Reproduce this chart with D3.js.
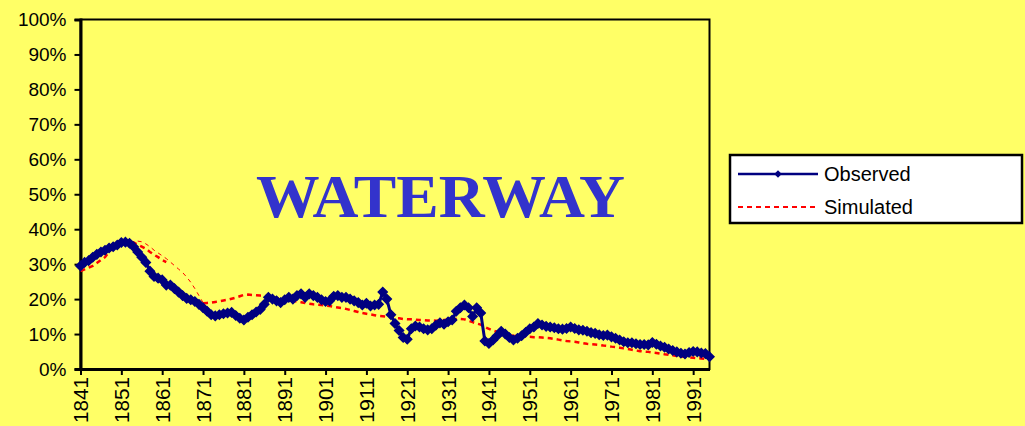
<!DOCTYPE html>
<html>
<head>
<meta charset="utf-8">
<script src="https://cdn.jsdelivr.net/npm/d3@7"></script>
<style>
  html, body { margin: 0; padding: 0; background: #FFFF66; }
  svg { display: block; }
  text { font-family: "Liberation Sans", Arial, sans-serif; }
</style>
</head>
<body>
<svg id="chart" width="1025" height="426"></svg>
<script>
// ---------- data ----------
const firstYear = 1841;
const lastYear = 1995;
const tickYears = [1841,1851,1861,1871,1881,1891,1901,1911,1921,1931,1941,1951,1961,1971,1981,1991];
const yTicks = [0,0.1,0.2,0.3,0.4,0.5,0.6,0.7,0.8,0.9,1.0];
const titleText = "WATERWAY";
const seriesNames = ["Observed", "Simulated"];

// Observed share (%), one value per year 1841..1995
const observed = [
  29.5,30.5,31,32,32.8,33.5,34,34.6,35,35.5,        // 1841-1850
  36.2,36.3,36,35,33.5,32,30.5,28,26.5,26,         // 1851-1860
  25.5,24,24,23,22,21,20.2,19.8,19.3,18.5,         // 1861-1870
  17.5,16.5,15.5,15.2,15.5,15.8,16,16.2,15.3,14.5, // 1871-1880
  14,14.8,15.5,16.3,17,18.5,20.5,20,19.5,19,       // 1881-1890
  19.8,20.5,20,21,21.5,20.5,21.5,21,20.5,19.8,     // 1891-1900
  19.3,19.5,20.8,21,20.5,20.5,20,19.5,19,18.3,     // 1901-1910
  18.8,18,18.3,18.5,22,20,15.5,13,11,9,            // 1911-1920
  8.5,11.5,12.3,12,11.5,11.2,11.5,12.5,13.2,12.8,  // 1921-1930
  13.5,14,16.5,17.5,18.3,17.5,15,17.5,16,8,        // 1931-1940
  7.3,8.3,9.5,10.8,10,9,8.3,8.8,9.5,10.5,          // 1941-1950
  11.5,12,13,12.6,12.2,12,11.8,11.5,11.4,11.6,     // 1951-1960
  12,11.6,11.2,11.1,10.8,10.4,10.2,9.8,9.6,9.7,    // 1961-1970
  9.2,8.8,8.3,7.8,7.5,7.5,7.2,7,7,6.9,             // 1971-1980
  7.6,7.1,6.6,6.2,5.7,5.3,4.9,4.5,4.3,4.7,         // 1981-1990
  5,4.9,4.6,4.4,3.5                                // 1991-1995
];

// Simulated share (%), 1841..1995, null = no value
const simulated = [
  28,28.5,29,29.5,30.3,31.2,32,33.5,35,36.2,       // 1841-1850
  36.8,36.8,36.5,36.2,35.6,35,34.4,33.5,32.7,32,   // 1851-1860
  31.2,30.6,null,null,null,null,null,null,null,null, // 1861-1870
  18.8,18.9,19,19.2,19.4,19.6,19.8,20.1,20.4,20.8, // 1871-1880
  21.2,21.3,21.2,21.1,21,20.9,20.7,20.5,20.3,20.1, // 1881-1890
  19.9,19.7,19.5,19.3,19.1,18.9,18.7,18.5,18.4,18.3, // 1891-1900
  18.2,18,17.8,17.6,17.4,17.2,16.9,16.6,16.3,16,   // 1901-1910
  15.8,15.6,15.4,15.2,15.1,15,14.8,14.6,14.5,14.3, // 1911-1920
  14.2,14.2,14.1,14,14,13.9,13.9,13.8,13.9,14,     // 1921-1930
  14.1,14.2,14.3,14.3,14.2,13.8,13.4,13,12.7,12,   // 1931-1940
  11.5,11,10.6,10.2,9.9,9.7,9.5,9.4,9.3,9.2,       // 1941-1950
  9.2,9.1,9.1,9,8.9,8.8,8.6,8.4,8.2,8,             // 1951-1960
  7.9,7.8,7.6,7.4,7.2,7.1,7,6.9,6.7,6.6,           // 1961-1970
  6.4,6.3,6.1,5.9,5.7,5.5,5.3,5.1,5,4.9,           // 1971-1980
  4.7,4.6,4.4,4.2,4.1,3.9,3.7,3.6,3.5,3.3,         // 1981-1990
  3.2,3.1,3,2.9,2.8                                // 1991-1995
];

// Thin simulated trace drawn across 1855..1871
const simThinYears = [1855,1856,1857,1858,1859,1860,1861,1862,1863,1864,1865,1866,1867,1868,1869,1870,1871];
const simThinValues = [36.6,36.4,35.8,35,34,33.2,32.4,31.6,30.6,29.6,28.6,27.6,26.3,24.8,23,21,19];

// ---------- layout ----------
const svg = d3.select("#chart");
const W = 1025, H = 426;
const plot = { left: 80.5, right: 709.5, top: 19.5, bottom: 369 };
const bg = "#FFFF66";
svg.append("rect").attr("width", W).attr("height", H).attr("fill", bg);

const x = d3.scaleLinear().domain([firstYear, lastYear]).range([plot.left, plot.right]);
const y = d3.scaleLinear().domain([0, 1]).range([plot.bottom, plot.top]);

// plot area
svg.append("rect")
  .attr("x", plot.left).attr("y", plot.top)
  .attr("width", plot.right - plot.left).attr("height", plot.bottom - plot.top)
  .attr("fill", bg).attr("stroke", "#000").attr("stroke-width", 2);

// title
svg.append("text")
  .attr("x", 440.5).attr("y", 217)
  .attr("text-anchor", "middle")
  .style("font-family", "'Liberation Serif', 'Times New Roman', serif")
  .attr("font-weight", "bold")
  .attr("font-size", 62)
  .attr("textLength", 369)
  .attr("lengthAdjust", "spacingAndGlyphs")
  .attr("fill", "#3333CC")
  .text(titleText);

// axes
const yAxis = d3.axisLeft(y).tickValues(yTicks).tickFormat(d3.format(".0%")).tickSize(6).tickPadding(8);
const gy = svg.append("g").attr("transform", `translate(${plot.left},0)`).call(yAxis);
gy.select(".domain").attr("stroke", "#000").attr("stroke-width", 3);
gy.selectAll(".tick line").attr("stroke", "#000").attr("stroke-width", 2);
gy.selectAll(".tick text").attr("font-size", 19).attr("fill", "#000")
  .style("font-family", "'Liberation Sans', Arial, sans-serif");

const xAxis = d3.axisBottom(x).tickValues(tickYears).tickFormat(d => String(d)).tickSize(6).tickSizeOuter(0);
const gx = svg.append("g").attr("transform", `translate(0,${plot.bottom})`).call(xAxis);
gx.select(".domain").attr("stroke", "#000").attr("stroke-width", 3);
gx.selectAll(".tick line").attr("stroke", "#000").attr("stroke-width", 2);
gx.selectAll(".tick text")
  .attr("font-size", 20).attr("fill", "#000")
  .style("font-family", "'Liberation Sans', Arial, sans-serif")
  .attr("text-anchor", "end")
  .attr("textLength", 46)
  .attr("lengthAdjust", "spacingAndGlyphs")
  .attr("transform", "translate(0,8) rotate(-90)")
  .attr("x", 0).attr("y", 0).attr("dy", "0.35em");

// series data
const obsData = observed.map((v, i) => ({ year: firstYear + i, v }));
const simData = simulated.map((v, i) => ({ year: firstYear + i, v }));
const thinData = simThinYears.map((yr, i) => ({ year: yr, v: simThinValues[i] }));

const line = d3.line()
  .defined(d => d.v !== null)
  .x(d => x(d.year))
  .y(d => y(d.v / 100));

const g = svg.append("g");

// simulated
g.append("path").datum(thinData)
  .attr("d", line).attr("fill", "none")
  .attr("stroke", "#FF0000").attr("stroke-width", 1).attr("stroke-dasharray", "4,4");
g.append("path").datum(simData)
  .attr("d", line).attr("fill", "none")
  .attr("stroke", "#FF0000").attr("stroke-width", 2.5).attr("stroke-dasharray", "5,4");

// observed
g.append("path").datum(obsData)
  .attr("d", line).attr("fill", "none")
  .attr("stroke", "#000080").attr("stroke-width", 3);
const diamond = d3.symbol().type(d3.symbolSquare).size(40);
g.selectAll("path.mk").data(obsData).join("path")
  .attr("class", "mk")
  .attr("d", diamond)
  .attr("transform", d => `translate(${x(d.year)},${y(d.v / 100)}) rotate(45)`)
  .attr("fill", "#000080").attr("stroke", "#000080").attr("stroke-width", 1.5);

// legend
const lg = svg.append("g");
lg.append("rect").attr("x", 730).attr("y", 155).attr("width", 292).attr("height", 68)
  .attr("fill", "#FFFFFF").attr("stroke", "#000").attr("stroke-width", 2.5);
lg.append("line").attr("x1", 738).attr("x2", 818).attr("y1", 174).attr("y2", 174)
  .attr("stroke", "#000080").attr("stroke-width", 2.5);
lg.append("path").attr("d", d3.symbol().type(d3.symbolSquare).size(28))
  .attr("transform", "translate(778,174) rotate(45)").attr("fill", "#000080");
lg.append("line").attr("x1", 738).attr("x2", 818).attr("y1", 207).attr("y2", 207)
  .attr("stroke", "#FF0000").attr("stroke-width", 2).attr("stroke-dasharray", "5,4");
lg.append("text").attr("x", 824).attr("y", 174).attr("dy", "0.35em")
  .attr("font-size", 20).attr("fill", "#000").text(seriesNames[0]);
lg.append("text").attr("x", 824).attr("y", 207).attr("dy", "0.35em")
  .attr("font-size", 20).attr("fill", "#000").text(seriesNames[1]);
</script>
</body>
</html>
